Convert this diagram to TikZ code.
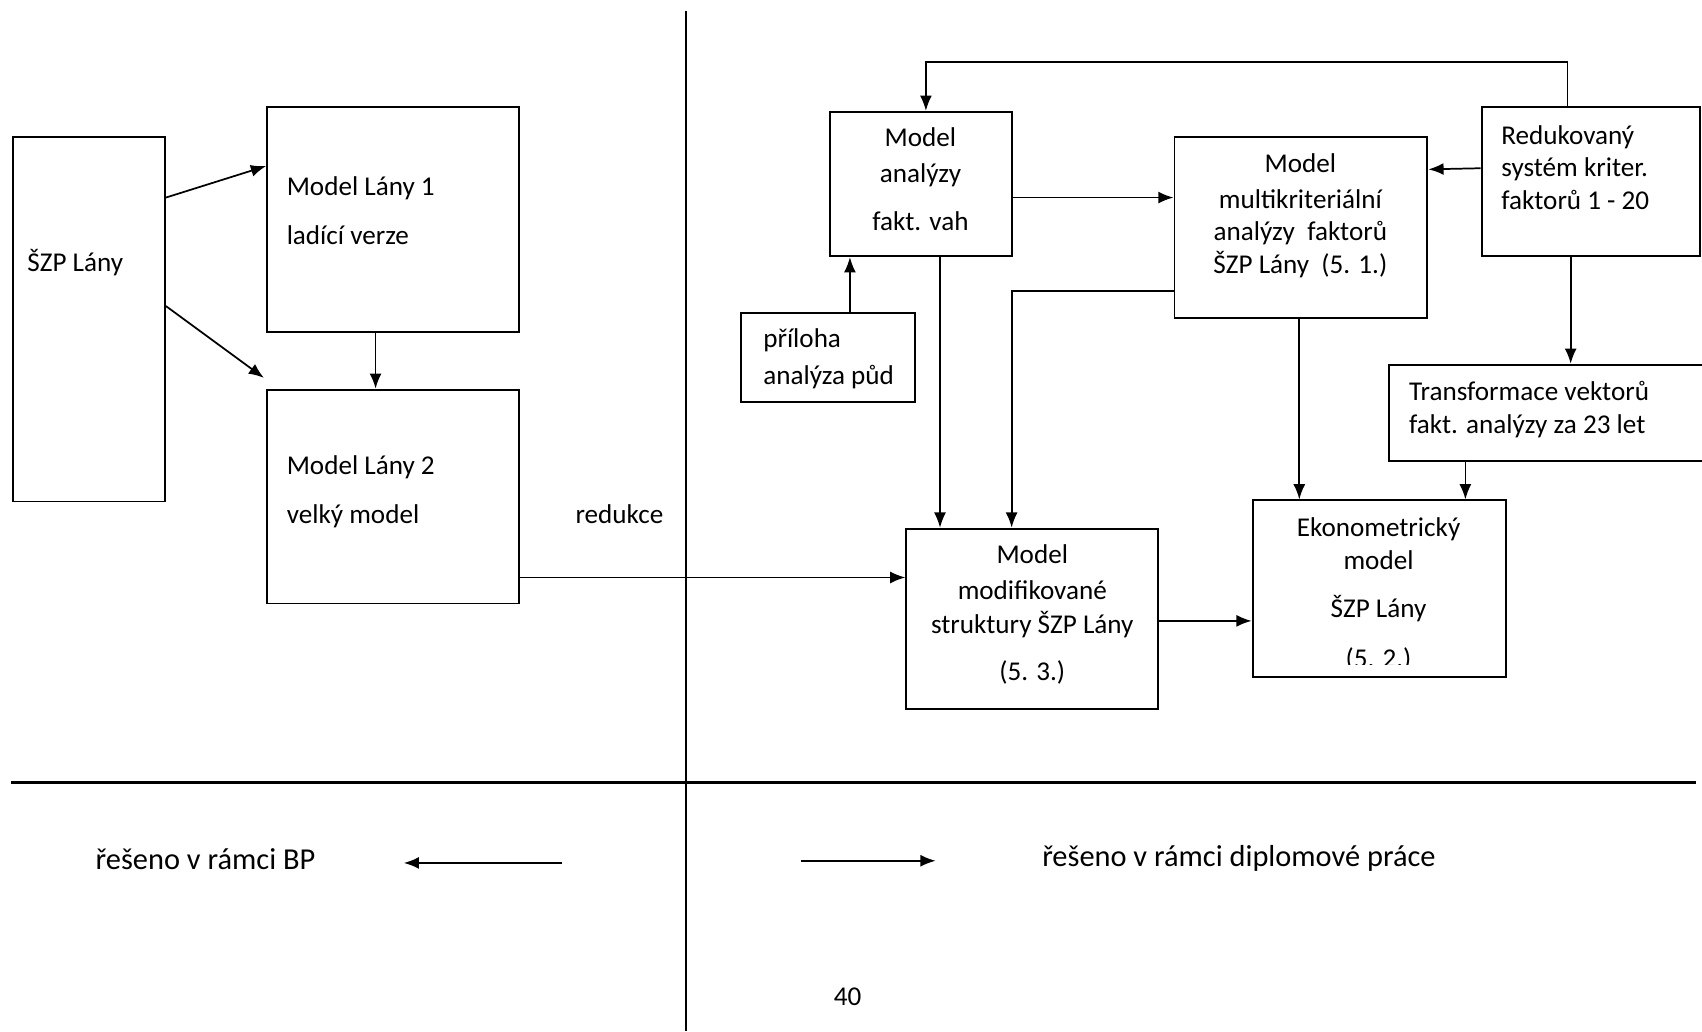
\documentclass[tikz,border=0pt]{standalone}
\usepackage{fontspec}
\setmainfont{Carlito}
\usetikzlibrary{arrows.meta}
\begin{document}
\begin{tikzpicture}[x=1pt,y=1pt,
  box/.style={draw, line width=1.8pt, inner sep=0pt},
  txt/.style={font=\fontsize{25}{30}\selectfont, inner sep=0pt, anchor=base west},
  ctxt/.style={font=\fontsize{25}{30}\selectfont, inner sep=0pt, anchor=base},
  btxt/.style={font=\fontsize{28}{34}\selectfont, inner sep=0pt, anchor=base west},
  arr/.style={-{Latex[length=14pt,width=11pt]}, line width=1.6pt},
  thinarr/.style={-{Latex[length=14pt,width=11pt]}, line width=1.2pt}]
\useasboundingbox (0,0) rectangle (1568,-950);

% dividers
\coordinate (vtop) at (632,-10);
\coordinate (vbot) at (632,-950);
\coordinate (hl) at (10,-721);
\coordinate (hr) at (1562,-721);
\draw[line width=1.3pt] (vtop) -- (vbot);
\draw[line width=2.4pt] (hl) -- (hr);

% boxes
\node[box, minimum width=140, minimum height=336] (szp) at (82,-294) {};
\node[box, minimum width=232, minimum height=207] (l1) at (362,-202.5) {};
\node[box, minimum width=232, minimum height=197] (l2) at (362,-457.5) {};
\node[box, minimum width=167, minimum height=133] (ma) at (848.5,-169.5) {};
\node[box, minimum width=233, minimum height=167] (mk) at (1198.5,-209.5) {};
\node[box, minimum width=201, minimum height=137] (rs) at (1465.5,-167.5) {};
\node[box, minimum width=160, minimum height=82] (pr) at (763,-329) {};
\node[box, minimum width=320, minimum height=89] (tr) at (1440,-380.5) {};
\node[box, minimum width=232, minimum height=166] (mm) at (951,-570) {};
\node[box, minimum width=233, minimum height=163] (ek) at (1270.5,-542.5) {};

% texts
\node[txt] (t1) at (25,-250) {ŠZP Lány};
\node[txt] (t2) at (264,-180) {Model Lány 1};
\node[txt] (t3) at (264,-225) {ladící verze};
\node[txt] (t4) at (264,-437) {Model Lány 2};
\node[txt] (t5) at (264,-482) {velký model};
\node[txt] (t6) at (530,-482) {redukce};

\node[ctxt] (t7) at (848,-135) {Model};
\node[ctxt] (t8) at (848,-168) {analýzy};
\node[ctxt] (t9) at (848,-212) {fakt. vah};

\node[ctxt] (t10) at (1198,-159) {Model};
\node[ctxt] (t11) at (1198,-192) {multikriteriální};
\node[ctxt] (t12) at (1198,-222) {analýzy~~faktorů};
\node[ctxt] (t13) at (1198,-252) {ŠZP Lány~~(5. 1.)};

\node[txt] (t14) at (1383,-133) {Redukovaný};
\node[txt] (t15) at (1383,-163) {systém kriter.};
\node[txt] (t16) at (1383,-193) {faktorů 1 - 20};

\node[txt] (t17) at (703,-320) {příloha};
\node[txt] (t18) at (703,-354) {analýza půd};

\node[txt] (t19) at (1298,-369) {Transformace vektorů};
\node[txt] (t20) at (1298,-399) {fakt. analýzy za 23 let};

\node[ctxt] (t21) at (951,-519) {Model};
\node[ctxt] (t22) at (951,-552) {modifikované};
\node[ctxt] (t23) at (951,-584) {struktury ŠZP Lány};
\node[ctxt] (t24) at (951,-627) {(5. 3.)};

\node[ctxt] (t25) at (1270,-494) {Ekonometrický};
\node[ctxt] (t26) at (1270,-525) {model};
\node[ctxt] (t27) at (1270,-569) {ŠZP Lány};
\begin{scope}
\clip (1160,-585) rectangle (1380,-612);
\node[ctxt] (t28) at (1270,-615) {(5. 2.)};
\end{scope}

\node[btxt] (t29) at (88,-801) {řešeno v rámci BP};
\node[btxt] (t30) at (960,-798) {řešeno v rámci diplomové práce};
\node[txt] (t31) at (768,-926) {40};

% connectors left
\draw[arr] (szp.east |- 0,-182) -- (l1.west |- 0,-153);
\draw[arr] (szp.east |- 0,-282) -- ([shift={(-2,10)}]l2.north west);
\draw[arr] ([xshift=-16]l1.south) -- ([xshift=-16]l2.north);
\draw[arr] (l2.east |- 0,-532) -- (mm.west |- 0,-532);

% connectors right
\draw[arr] ([xshift=-21.5]rs.north) -- ++(0,41) -| ([xshift=4.5]ma.north);
\draw[arr] (ma.east |- 0,-182) -- (mk.west |- 0,-182);
\draw[arr] (rs.west |- 0,-155) -- (mk.east |- 0,-156);
\draw[arr] (pr.north -| 783,0) -- (ma.south -| 783,0);
\draw[thinarr] (ma.south -| 866,0) -- (mm.north -| 866,0);
\draw[arr] (mk.west |- 0,-268) -| (mm.north -| 932,0);
\draw[arr] (mk.south -| 1197,0) -- (ek.north -| 1197,0);
\draw[arr] (rs.south -| 1447,0) -- (tr.north -| 1447,0);
\draw[arr] (tr.south -| 1350,0) -- (ek.north -| 1350,0);
\draw[arr] (mm.east |- 0,-572) -- (ek.west |- 0,-572);

% legend arrows
\coordinate (la) at (518,-795);
\coordinate (lb) at (372,-795);
\coordinate (ra) at (738,-793);
\coordinate (rb) at (862,-793);
\draw[arr] (la) -- (lb);
\draw[arr] (ra) -- (rb);
\end{tikzpicture}
\end{document}
